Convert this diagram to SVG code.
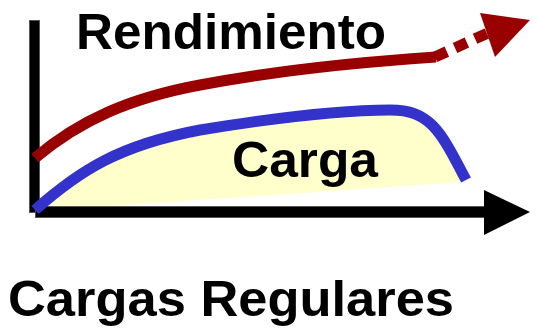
<svg xmlns="http://www.w3.org/2000/svg" width="538" height="330" viewBox="0 0 538 330">
<style>
.t{font-family:"Liberation Sans",Arial,sans-serif;font-weight:bold;font-size:50px;fill:#000}
.axis{fill:#000;stroke:#555;stroke-width:1}
.curve{fill:none;stroke-width:11;stroke-linecap:butt}
</style>
<rect width="538" height="330" fill="#fff"/>
<g id="area">
<path d="M35,210 C80,170 120,145 200,130 C280,117 340,110 390,110 C430,110 440,130 466,180 L462,182 L38,211 Z" fill="#FFFFCC"/>
</g>
<g id="axes">
<rect class="axis" x="29.5" y="20.5" width="10" height="192"/>
<rect class="axis" x="35.5" y="206.5" width="450" height="11"/>
<polygon points="484,190 530,212 484,235" fill="#000"/>
</g>
<g id="connectors">
<path class="curve" d="M35,210 C80,170 120,145 200,130 C280,117 340,110 390,110 C430,110 440,130 466,180" stroke="#3333CC"/>
<path class="curve" d="M35,158 C80,120 130,98 200,85 C280,70 360,62 436,57" stroke="#990000"/>
<path class="curve" d="M435,57 L490,32" stroke="#990000" stroke-dasharray="13,9"/>
<polygon points="480,13 530,20 495,57" fill="#990000"/>
</g>
<g id="rendimiento"><text class="t" x="76" y="49" textLength="310" lengthAdjust="spacingAndGlyphs">Rendimiento</text></g>
<g id="carga"><text class="t" x="232" y="177" textLength="146" lengthAdjust="spacingAndGlyphs">Carga</text></g>
<g id="title"><text class="t" x="8" y="316" textLength="446" lengthAdjust="spacingAndGlyphs">Cargas Regulares</text></g>
</svg>
